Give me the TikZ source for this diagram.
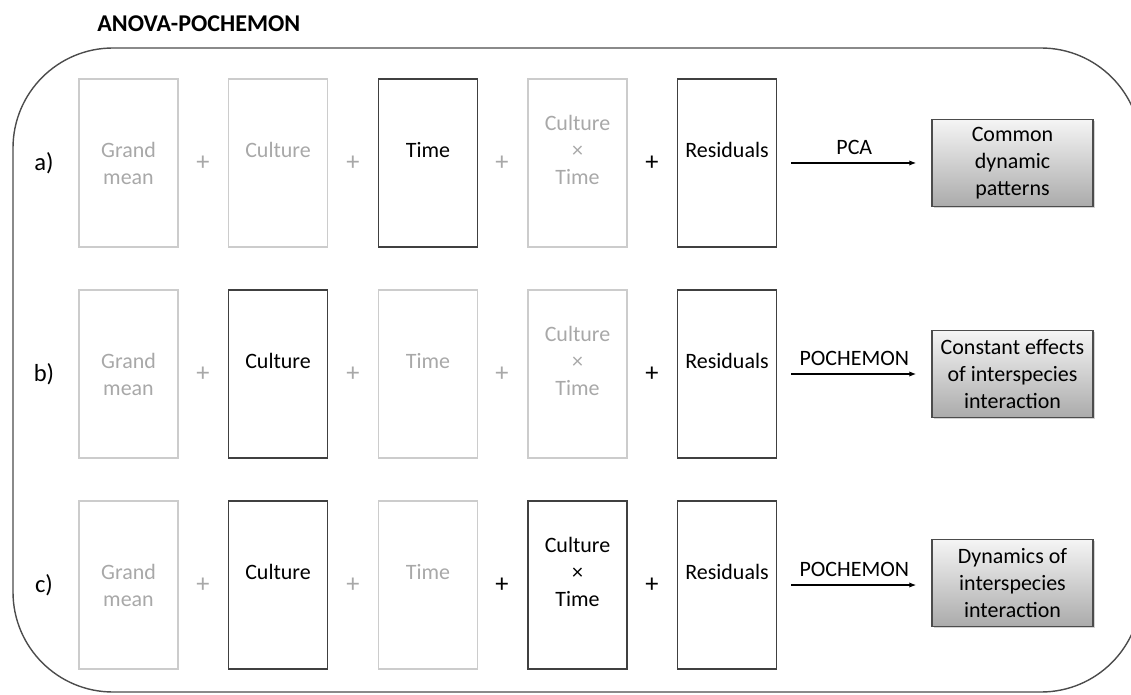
\documentclass[tikz,border=0pt]{standalone}
\usepackage{fontspec}
\setmainfont{Carlito}
\usetikzlibrary{shadows,arrows.meta}

\begin{document}
\begin{tikzpicture}[x=0.02cm, y=-0.02cm]
    \tikzstyle{every node}=[font=\fontsize{12.5}{15.4}\selectfont, align=center]
    % the model terms:
    \tikzstyle{term}=[draw=black!75, line width=0.9pt, text=black,
                      minimum width=1.98cm, minimum height=3.36cm, inner sep=0pt]
    \tikzstyle{faded}=[term, draw=black!20, text=black!34]
    % the plus signs:
    \tikzstyle{plus}=[text=black, font=\fontsize{15}{17}\selectfont]
    \tikzstyle{fadedplus}=[plus, text=black!34]
    % the outcome boxes:
    \tikzstyle{result}=[draw=black!70, line width=0.8pt, top color=black!4, bottom color=black!33,
                        minimum width=3.22cm, minimum height=1.74cm, inner sep=0pt,
                        drop shadow={shadow xshift=1pt, shadow yshift=-1pt, opacity=0.35}]
    \tikzstyle{flow}=[-{Latex[length=4pt,width=3pt]}, line width=0.7pt,
                      shorten <=0.28cm, shorten >=0.3cm]
    \tikzstyle{rowlabel}=[font=\fontsize{14}{17}\selectfont]

    \useasboundingbox (0,0) rectangle (1131,695);

    \node[anchor=west, inner sep=0pt, font=\bfseries\fontsize{13.7}{16}\selectfont] (title) at (97,24) {ANOVA-POCHEMON};
    \begin{scope}
        \clip (0,0) rectangle (1131,695);
        \draw[draw=black!70, line width=0.8pt, rounded corners=2cm] (13,48) rectangle (1141,692);
    \end{scope}

    % row a)
    \node[rowlabel] (la) at (44,163) {a)};
    \node[faded] (ga) at (128.5,163) {Grand\\mean};
    \node[fadedplus] (pa1) at (203,163) {+};
    \node[faded] (ca) at (278,163) {Culture\\\mbox{}};
    \node[fadedplus] (pa2) at (353,163) {+};
    \node[term] (ta) at (428,163) {Time\\\mbox{}};
    \node[fadedplus] (pa3) at (502,163) {+};
    \node[faded] (xa) at (577.5,163) {Culture\\×\\Time\\\mbox{}};
    \node[plus] (pa4) at (652,163) {+};
    \node[term] (ra) at (727,163) {Residuals\\\mbox{}};
    \node[result] (oa) at (1012.5,163) {Common\\dynamic\\patterns};
    \draw[flow] (ra) -- (oa) node[midway, above=1pt] {PCA};

    % row b)
    \node[rowlabel] (lb) at (44,374) {b)};
    \node[faded] (gb) at (128.5,374) {Grand\\mean};
    \node[fadedplus] (pb1) at (203,374) {+};
    \node[term] (cb) at (278,374) {Culture\\\mbox{}};
    \node[fadedplus] (pb2) at (353,374) {+};
    \node[faded] (tb) at (428,374) {Time\\\mbox{}};
    \node[fadedplus] (pb3) at (502,374) {+};
    \node[faded] (xb) at (577.5,374) {Culture\\×\\Time\\\mbox{}};
    \node[plus] (pb4) at (652,374) {+};
    \node[term] (rb) at (727,374) {Residuals\\\mbox{}};
    \node[result] (ob) at (1012.5,374) {Constant effects\\of interspecies\\interaction};
    \draw[flow] (rb) -- (ob) node[midway, above=1pt] {POCHEMON};

    % row c)
    \node[rowlabel] (lc) at (44,585) {c)};
    \node[faded] (gc) at (128.5,585) {Grand\\mean};
    \node[fadedplus] (pc1) at (203,585) {+};
    \node[term] (cc) at (278,585) {Culture\\\mbox{}};
    \node[fadedplus] (pc2) at (353,585) {+};
    \node[faded] (tc) at (428,585) {Time\\\mbox{}};
    \node[plus] (pc3) at (502,585) {+};
    \node[term] (xc) at (577.5,585) {Culture\\×\\Time\\\mbox{}};
    \node[plus] (pc4) at (652,585) {+};
    \node[term] (rc) at (727,585) {Residuals\\\mbox{}};
    \node[result] (oc) at (1012.5,583) {Dynamics of\\interspecies\\interaction};
    \draw[flow] (rc) -- (rc -| oc.west) node[midway, above=1pt] {POCHEMON};
\end{tikzpicture}
\end{document}
